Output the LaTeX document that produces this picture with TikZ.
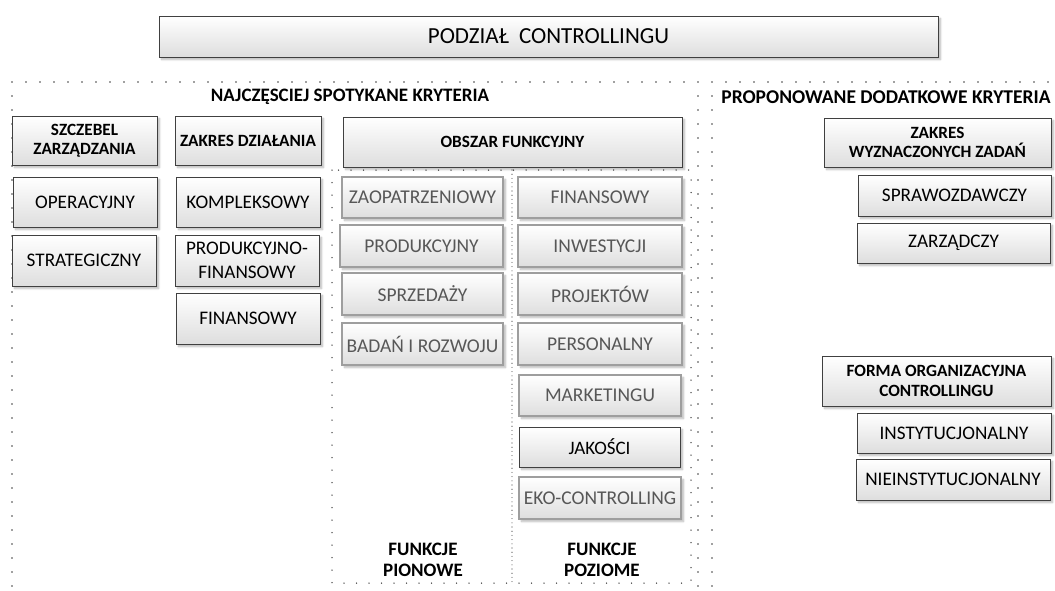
\documentclass[tikz,border=0pt]{standalone}
\usepackage{fontspec}
\setmainfont{Carlito}
\usetikzlibrary{shadows.blur}
\newcommand{\boxat}[7]{%
  \node[#1, minimum width={#5-#3}, minimum height={#6-#4}] (#2) at ({(#3+#5)/2},{(#4+#6)/2}) {#7};}
\tikzset{
  box/.style={draw=black!75, line width=0.9pt, top color=white, bottom color=black!13,
    blur shadow={shadow xshift=2.5pt, shadow yshift=-2.5pt, shadow blur steps=6, shadow opacity=28},
    align=center, inner sep=1pt, font=\fontsize{19.2}{24}\selectfont},
  hdr/.style={box, font=\bfseries\fontsize{17.2}{19.5}\selectfont},
  fnbox/.style={box, draw=black!38, line width=1.6pt, text=black!66, font=\fontsize{19.5}{22}\selectfont},
  lbl/.style={align=center, font=\bfseries\fontsize{19}{20.5}\selectfont},
  dotline/.style={draw=black!75, line width=1.6pt, line cap=round, dash pattern=on 0pt off 14pt},
  dotfn/.style={draw=black!75, line width=1.5pt, line cap=round, dash pattern=on 0pt off 12.5pt},
  dotdense/.style={draw=black!75, line width=1.1pt, line cap=round, dash pattern=on 0pt off 4.2pt}
}
\begin{document}
\begin{tikzpicture}[x=1pt, y=-1pt]
\useasboundingbox (0,0) rectangle (1055,590);
% dotted frames
\coordinate (lA) at (12,600); \coordinate (lB) at (12,82); \coordinate (lC) at (698,82); \coordinate (lD) at (698,600);
\draw[dotline] (lA) -- (lB) -- (lC) -- (lD);
\coordinate (rA) at (712,600); \coordinate (rB) at (712,82); \coordinate (rC) at (1052,82);
\draw[dotline] (rA) -- (rB) -- (rC);
\coordinate (fA) at (332,170); \coordinate (fB) at (691,583);
\draw[dotfn] (fA) rectangle (fB);
\coordinate (dA) at (512,170); \coordinate (dB) at (512,583);
\draw[dotdense] (dA) -- (dB);

% title
\boxat{box, font=\fontsize{23}{26}\selectfont}{title}{159}{16}{938}{57}{PODZIAŁ\ \ CONTROLLINGU}

% headers
\node[lbl] (najcz) at (350,97) {NAJCZĘSCIEJ SPOTYKANE KRYTERIA};
\node[lbl, font=\bfseries\fontsize{19.5}{21}\selectfont] (propo) at (886,97) {PROPONOWANE DODATKOWE KRYTERIA};

% left column
\boxat{hdr}{szczebel}{12}{116}{157}{165}{SZCZEBEL\\ZARZĄDZANIA}
\boxat{box}{operacyjny}{13}{177}{157}{227}{OPERACYJNY}
\boxat{box}{strategiczny}{12}{235}{156}{286}{STRATEGICZNY}

% second column
\boxat{hdr}{zakres}{175}{116}{321}{165}{ZAKRES DZIAŁANIA}
\boxat{box}{kompleksowy}{176}{177}{320}{227}{KOMPLEKSOWY}
\boxat{box}{prodfin}{175}{235}{319}{286}{PRODUKCYJNO-\\FINANSOWY}
\boxat{box}{finansowyL}{176}{293}{320}{344}{FINANSOWY}

% functional area
\boxat{hdr}{obszar}{343}{117}{682}{167}{OBSZAR FUNKCYJNY}
\boxat{fnbox}{zaopatrz}{342}{177}{503}{218}{ZAOPATRZENIOWY}
\boxat{fnbox}{produkc}{340}{225}{503}{267}{PRODUKCYJNY}
\boxat{fnbox}{sprzedazy}{342}{273}{503}{315}{SPRZEDAŻY}
\boxat{fnbox}{badan}{342}{323}{503}{365}{BADAŃ I ROZWOJU}
\boxat{fnbox}{finansowyF}{518}{177}{682}{218}{FINANSOWY}
\boxat{fnbox}{inwestycji}{518}{225}{682}{267}{INWESTYCJI}
\boxat{fnbox}{projektow}{518}{273}{682}{315}{PROJEKTÓW}
\boxat{fnbox}{personalny}{518}{323}{682}{365}{PERSONALNY}
\boxat{fnbox}{marketingu}{519}{375}{681}{416}{MARKETINGU}
\boxat{box, font=\fontsize{19}{22}\selectfont}{jakosci}{519}{427}{680}{467}{JAKOŚCI}
\boxat{fnbox}{eko}{519}{477}{681}{519}{EKO-CONTROLLING}
\node[lbl] (pionowe) at (423,560) {FUNKCJE\\PIONOWE};
\node[lbl] (poziome) at (602,560) {FUNKCJE\\POZIOME};

% right side
\boxat{hdr}{zadan}{824}{118}{1051}{167}{ZAKRES\\WYZNACZONYCH ZADAŃ}
\boxat{box}{sprawozd}{858}{175}{1051}{216}{SPRAWOZDAWCZY}
\boxat{box}{zarzadczy}{857}{223}{1050}{263}{ZARZĄDCZY}
\boxat{hdr}{forma}{822}{356}{1051}{406}{FORMA ORGANIZACYJNA\\CONTROLLINGU}
\boxat{box}{instyt}{857}{413}{1051}{453}{INSTYTUCJONALNY}
\boxat{box}{nieinst}{856}{459}{1050}{500}{NIEINSTYTUCJONALNY}
\end{tikzpicture}
\end{document}
